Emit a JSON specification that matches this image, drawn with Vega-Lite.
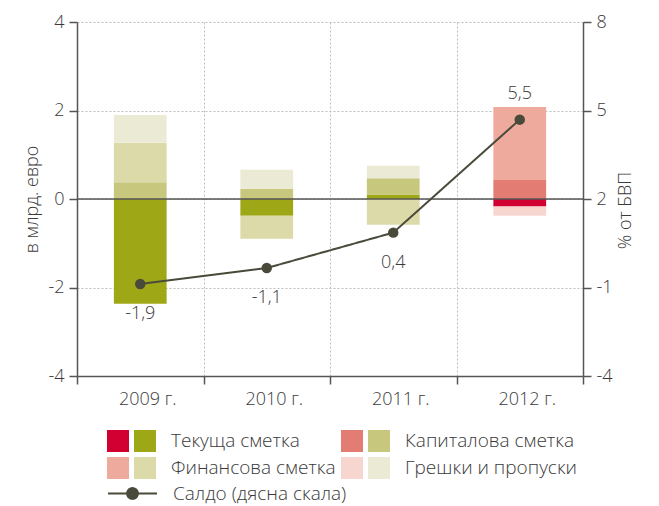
{
  "$schema": "https://vega.github.io/schema/vega-lite/v6.json",
  "width": 506,
  "height": 354,
  "autosize": {"type": "none"},
  "padding": {"left": 77, "top": 22, "right": 76, "bottom": 130},
  "config": {
    "font": "Open Sans",
    "view": {"stroke": null},
    "axis": {
      "labelFont": "Open Sans", "titleFont": "Open Sans",
      "labelFontSize": 18, "titleFontSize": 18,
      "labelFontWeight": 300, "titleFontWeight": 300,
      "labelColor": "#3a3a3a", "titleColor": "#3a3a3a",
      "domainColor": "#555555", "domainWidth": 1.5,
      "tickColor": "#555555", "tickWidth": 1.5, "tickSize": 8,
      "gridColor": "#bdbdbd", "gridDash": [2, 2], "gridWidth": 1,
      "labelPadding": 5
    },
    "legend": {"labelFont": "Open Sans", "labelFontSize": 19, "labelFontWeight": 300, "labelColor": "#3a3a3a"},
    "text": {"font": "Open Sans", "fontWeight": 300}
  },
  "datasets": {
    "bars": [
      {"year": "2009 г.", "key": "Текуща сметка", "rank": 1, "value": -2.37},
      {"year": "2009 г.", "key": "Капиталова сметка", "rank": 2, "value": 0.38},
      {"year": "2009 г.", "key": "Финансова сметка", "rank": 3, "value": 0.89},
      {"year": "2009 г.", "key": "Грешки и пропуски", "rank": 4, "value": 0.63},
      {"year": "2010 г.", "key": "Текуща сметка", "rank": 1, "value": -0.38},
      {"year": "2010 г.", "key": "Капиталова сметка", "rank": 2, "value": 0.23},
      {"year": "2010 г.", "key": "Финансова сметка", "rank": 3, "value": -0.52},
      {"year": "2010 г.", "key": "Грешки и пропуски", "rank": 4, "value": 0.43},
      {"year": "2011 г.", "key": "Текуща сметка", "rank": 1, "value": 0.10},
      {"year": "2011 г.", "key": "Капиталова сметка", "rank": 2, "value": 0.37},
      {"year": "2011 г.", "key": "Финансова сметка", "rank": 3, "value": -0.58},
      {"year": "2011 г.", "key": "Грешки и пропуски", "rank": 4, "value": 0.28},
      {"year": "2012 г.", "key": "Текуща сметка (2012)", "rank": 1, "value": -0.17},
      {"year": "2012 г.", "key": "Капиталова сметка (2012)", "rank": 2, "value": 0.43},
      {"year": "2012 г.", "key": "Финансова сметка (2012)", "rank": 3, "value": 1.65},
      {"year": "2012 г.", "key": "Грешки и пропуски (2012)", "rank": 4, "value": -0.21}
    ],
    "saldo": [
      {"year": "2009 г.", "saldo": -0.88, "label": "-1,9"},
      {"year": "2010 г.", "saldo": -0.34, "label": "-1,1"},
      {"year": "2011 г.", "saldo": 0.86, "label": "0,4"},
      {"year": "2012 г.", "saldo": 4.69, "label": "5,5"}
    ],
    "zero": [{"y": 0}]
  },
  "layer": [
    {
      "layer": [
        {
          "data": {"name": "bars"},
          "mark": {"type": "bar", "width": {"band": 0.417}},
          "encoding": {
            "x": {
              "field": "year", "type": "nominal",
              "scale": {"paddingInner": 0, "paddingOuter": 0},
              "axis": {"title": null, "tickBand": "extent", "grid": true, "labelOffset": 7, "labelPadding": 6, "labelAngle": 0}
            },
            "y": {
              "field": "value", "type": "quantitative", "stack": "zero",
              "scale": {"domain": [-4, 4], "nice": false, "zero": false},
              "axis": {"title": "в млрд. евро", "values": [-4, -2, 0, 2, 4], "grid": true, "labelExpr": "datum.value + ''", "titlePadding": 6}
            },
            "color": {
              "field": "key", "type": "nominal",
              "scale": {
                "domain": ["Текуща сметка (2012)", "Текуща сметка", "Капиталова сметка (2012)", "Капиталова сметка", "Финансова сметка (2012)", "Финансова сметка", "Грешки и пропуски (2012)", "Грешки и пропуски"],
                "range": ["#d20032", "#9ea816", "#e37c72", "#c8c77e", "#edaa9d", "#dbdaa8", "#f8d6d0", "#ebebd5"]
              },
              "legend": {
                "orient": "none", "legendX": 30, "legendY": 408, "title": null,
                "direction": "horizontal",
                "columns": 4, "symbolType": "square", "symbolSize": 484, "symbolStrokeWidth": 0,
                "labelOffset": 0, "columnPadding": 5, "rowPadding": 5, "padding": 0, "labelLimit": 400,
                "labelExpr": "indexof(datum.label, '(2012)') >= 0 ? '' : datum.label + '\u00a0\u00a0'",
                "encode": {"labels": {"update": {"dx": {"signal": "indexof(datum.value, '(2012)') >= 0 ? 0 : 15"}}}}
              }
            },
            "order": {"field": "rank", "type": "quantitative"}
          }
        },
        {
          "data": {"name": "zero"},
          "mark": {"type": "rule", "color": "#555555", "strokeWidth": 1.5},
          "encoding": {"y": {"field": "y", "type": "quantitative"}}
        }
      ]
    },
    {
      "data": {"name": "saldo"},
      "layer": [
        {
          "mark": {"type": "line", "color": "#4a4a3b", "strokeWidth": 2},
          "encoding": {
            "x": {"field": "year", "type": "nominal"},
            "y": {
              "field": "saldo", "type": "quantitative",
              "scale": {"domain": [-4, 8], "nice": false, "zero": false},
              "axis": {"orient": "right", "title": "% от БВП", "values": [-4, -1, 2, 5, 8], "grid": false, "labelExpr": "datum.value + ''", "titleAngle": 270, "titleBaseline": "top", "titlePadding": 4, "titleY": 188}
            },
            "strokeDash": {
              "datum": "Салдо (дясна скала)",
              "scale": {"range": [[1, 0]]},
              "legend": {
                "orient": "none", "legendX": 30, "legendY": 446, "title": null, "padding": 0,
                "symbolType": "M-1,0H1M0.22,0A0.22,0.22 0 1 1 -0.22,0A0.22,0.22 0 1 1 0.22,0Z",
                "symbolSize": 2401, "symbolStrokeWidth": 2, "symbolFillColor": "#4a4a3b", "symbolStrokeColor": "#4a4a3b",
                "labelOffset": 15, "labelLimit": 400,
                "encode": {"symbols": {"update": {"fill": {"value": "#4a4a3b"}, "fillOpacity": {"value": 1}, "opacity": {"value": 1}, "stroke": {"value": "#4a4a3b"}, "strokeWidth": {"value": 2}}}}
              }
            }
          }
        },
        {
          "mark": {"type": "point", "filled": true, "size": 110, "color": "#4a4a3b", "opacity": 1},
          "encoding": {
            "x": {"field": "year", "type": "nominal"},
            "y": {"field": "saldo", "type": "quantitative"}
          }
        },
        {
          "transform": [{"filter": "datum.year != '2012 г.'"}],
          "mark": {"type": "text", "fontSize": 18, "color": "#3a3a3a", "dy": 30, "baseline": "middle"},
          "encoding": {
            "x": {"field": "year", "type": "nominal"},
            "y": {"field": "saldo", "type": "quantitative"},
            "text": {"field": "label"}
          }
        },
        {
          "transform": [{"filter": "datum.year == '2012 г.'"}],
          "mark": {"type": "text", "fontSize": 18, "color": "#3a3a3a", "dy": -26, "baseline": "middle"},
          "encoding": {
            "x": {"field": "year", "type": "nominal"},
            "y": {"field": "saldo", "type": "quantitative"},
            "text": {"field": "label"}
          }
        }
      ]
    }
  ],
  "resolve": {"scale": {"y": "independent"}, "axis": {"y": "independent"}}
}
